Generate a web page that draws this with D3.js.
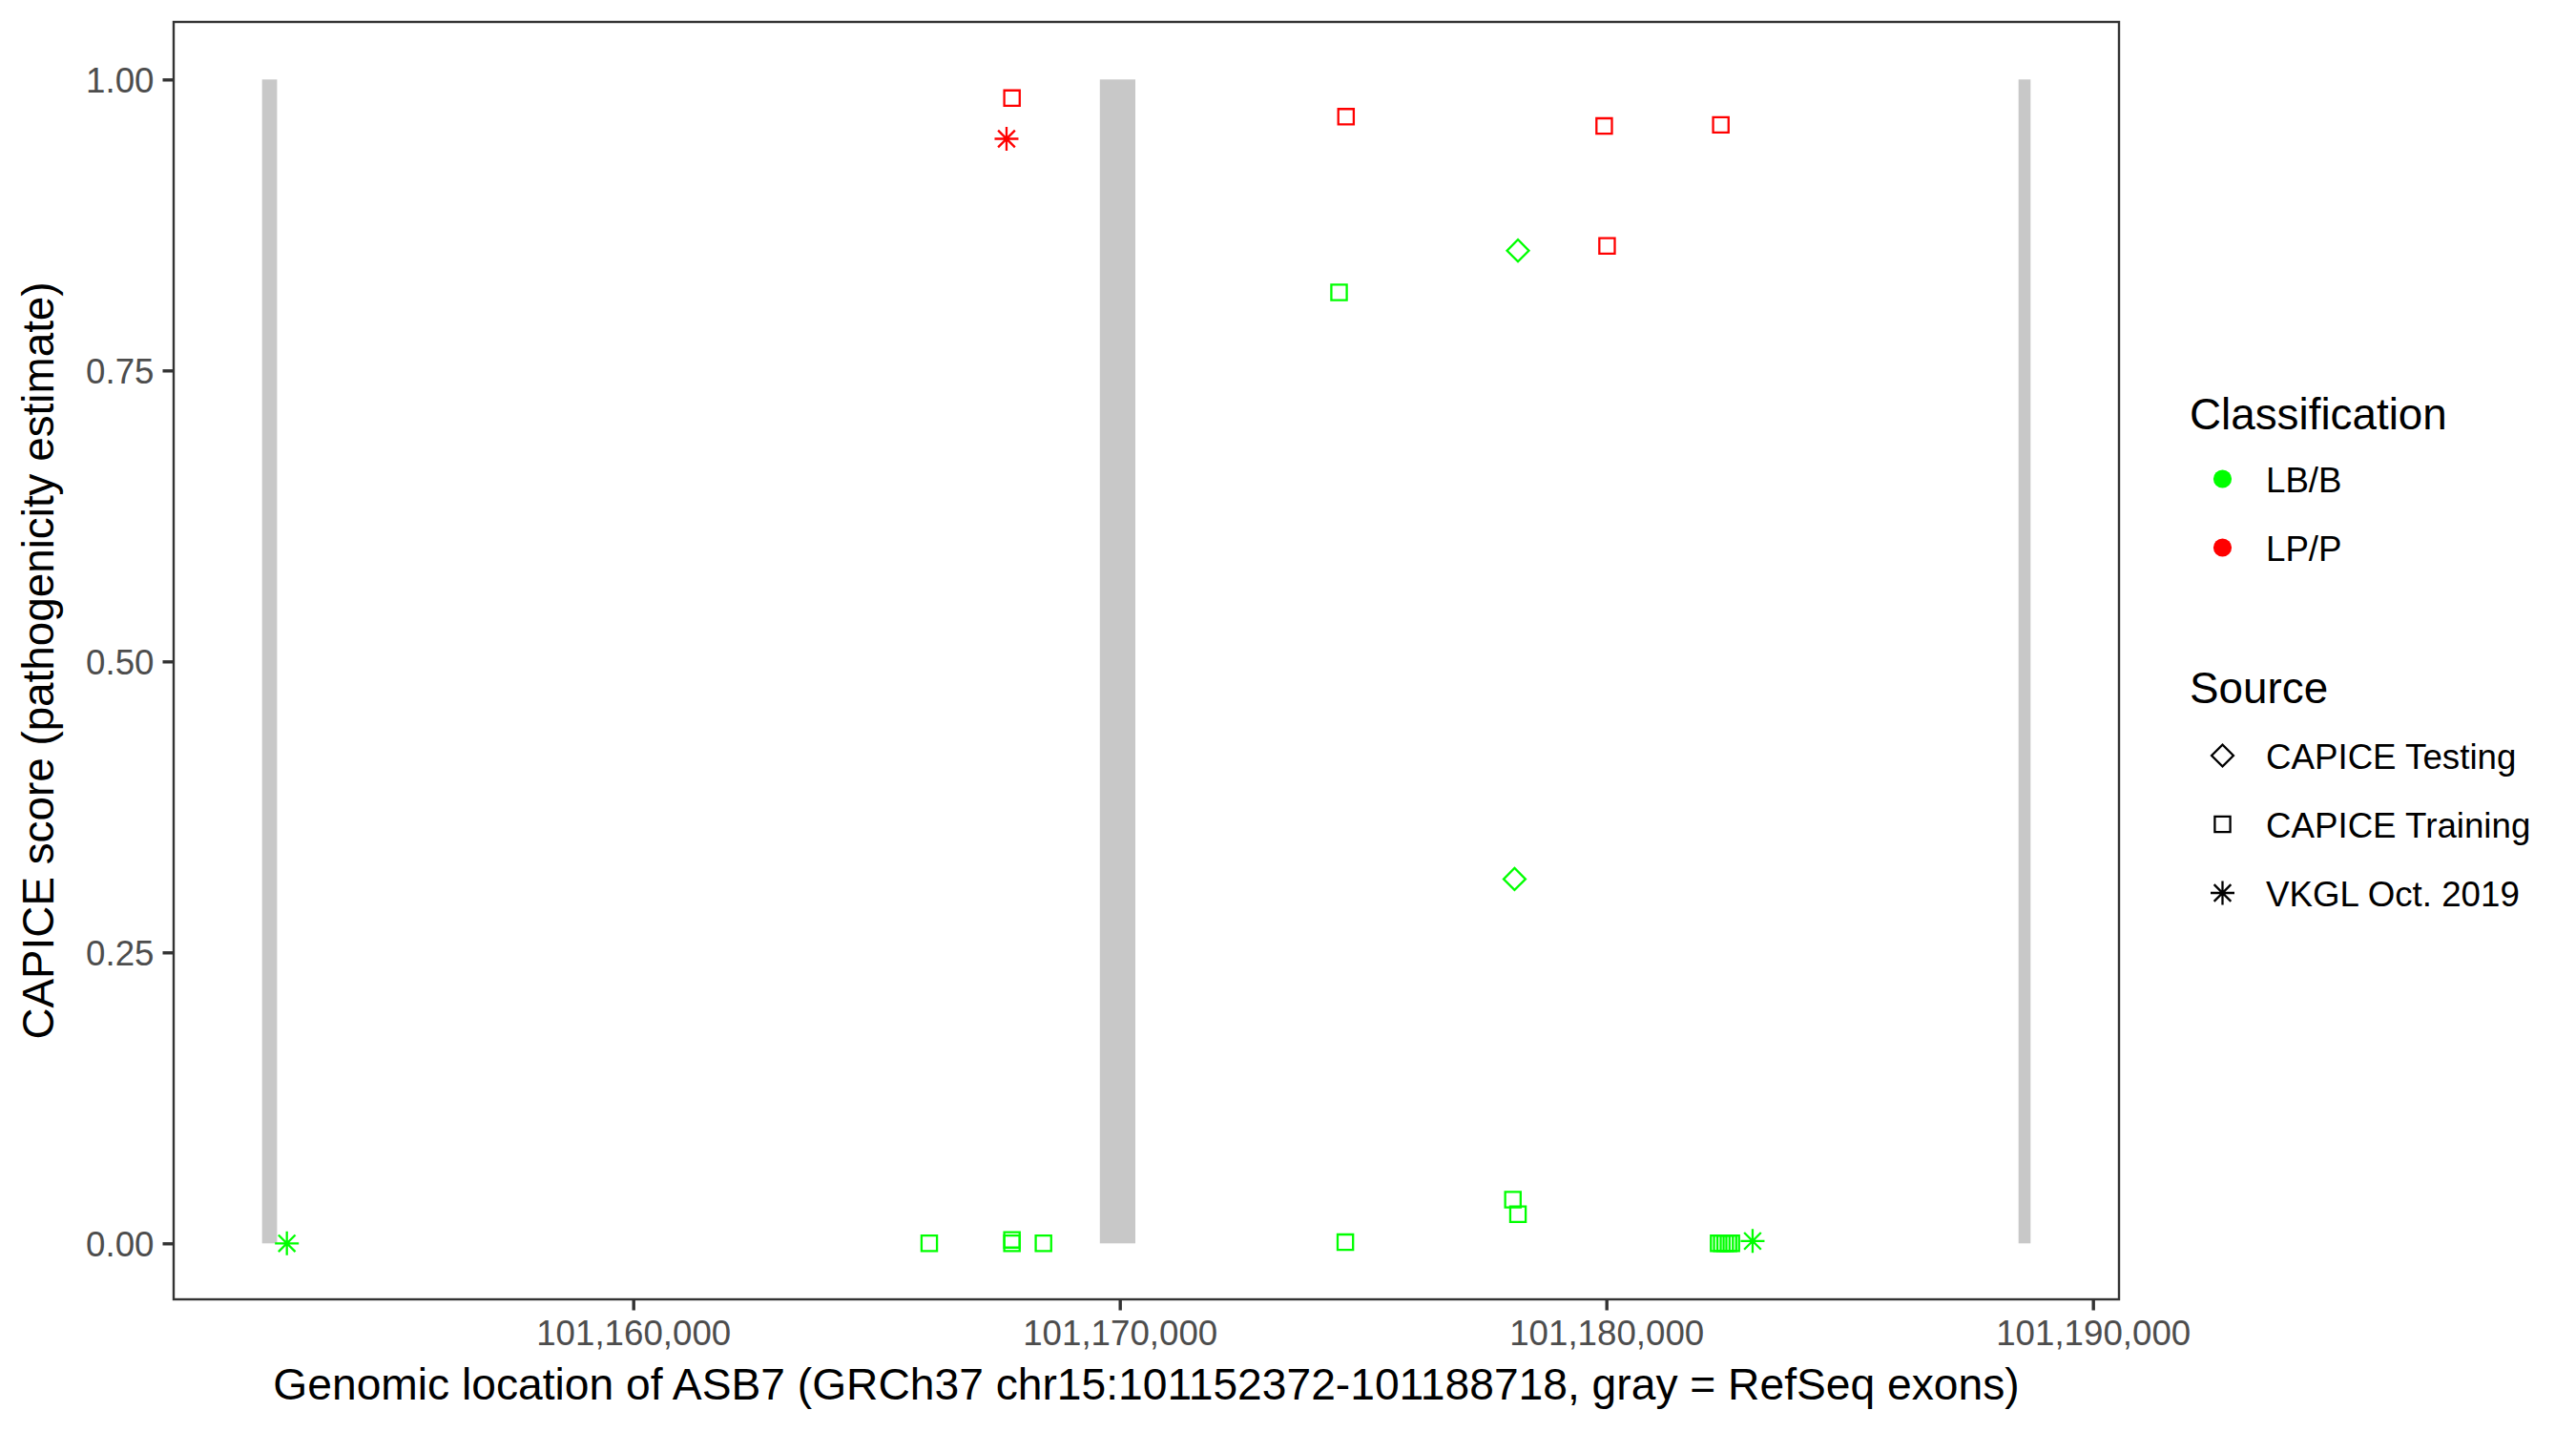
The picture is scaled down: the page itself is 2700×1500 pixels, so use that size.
<!DOCTYPE html>
<html><head><meta charset="utf-8">
<script src="https://cdn.jsdelivr.net/npm/d3@7"></script>
<style>
body{margin:0;background:#fff}
svg{display:block}
text{font-family:"Liberation Sans",Arial,Helvetica,sans-serif}
</style>
</head><body>
<svg id="c" width="2700" height="1500"></svg>
<script>
// ---- data ----
const geneStart = 101152372, geneEnd = 101188718;
const exonStarts = [101152372, 101169590, 101188470];
const exonEnds   = [101152680, 101170320, 101188718];
const xTicks = [101160000, 101170000, 101180000, 101190000];
const yTicks = [0, 0.25, 0.5, 0.75, 1];
const classes = ["LB/B", "LP/P"];
const classColors = ["#00FF00", "#FF0000"];
const sources = ["CAPICE Testing", "CAPICE Training", "VKGL Oct. 2019"];

const varPos = [101152882, 101166084, 101167784, 101167784, 101168431, 101167784, 101167672,
  101174649, 101174506, 101174635, 101178183, 101178113, 101178079, 101178183,
  101179955, 101180014, 101182352, 101182307, 101182372, 101182441, 101182509, 101182568, 101183005];
const varScore = [0, 0, 0.003, 0, 0, 0.984, 0.949,
  0.968, 0.817, 0.001, 0.853, 0.313, 0.0375, 0.025,
  0.960, 0.857, 0.961, 0, 0, 0, 0, 0, 0.002];
const varClass = ["LB/B","LB/B","LB/B","LB/B","LB/B","LP/P","LP/P",
  "LP/P","LB/B","LB/B","LB/B","LB/B","LB/B","LB/B",
  "LP/P","LP/P","LP/P","LB/B","LB/B","LB/B","LB/B","LB/B","LB/B"];
const varSource = ["VKGL Oct. 2019","CAPICE Training","CAPICE Training","CAPICE Training","CAPICE Training","CAPICE Training","VKGL Oct. 2019",
  "CAPICE Training","CAPICE Training","CAPICE Training","CAPICE Testing","CAPICE Testing","CAPICE Training","CAPICE Training",
  "CAPICE Training","CAPICE Training","CAPICE Training","CAPICE Training","CAPICE Training","CAPICE Training","CAPICE Training","CAPICE Training","VKGL Oct. 2019"];

// ---- layout ----
const svg = d3.select("#c");
const P = {left: 182, right: 2221, top: 23, bottom: 1362};
const span = geneEnd - geneStart;
const x = d3.scaleLinear().domain([geneStart - 0.05*span, geneEnd + 0.05*span]).range([P.left, P.right]);
const y = d3.scaleLinear().domain([0, 1]).range([1303.3, 83.3]);
const color = d3.scaleOrdinal().domain(classes).range(classColors);

// symbols
const sq = d3.symbol().type(d3.symbolSquare).size(262)();
function asterisk(r){
  let d = "";
  for (let i = 0; i < 4; i++) {
    const a = i * Math.PI / 4;
    const dx = r*Math.cos(a), dy = r*Math.sin(a);
    d += `M${-dx},${-dy}L${dx},${dy}`;
  }
  return d;
}
const shapePath = {
  "CAPICE Testing": {d: sq, rot: 45},
  "CAPICE Training": {d: sq, rot: 0},
  "VKGL Oct. 2019": {d: asterisk(12.5), rot: 0}
};

// exons
svg.append("g").selectAll("rect").data(exonStarts).join("rect")
  .attr("x", (d,i) => x(d))
  .attr("width", (d,i) => Math.max(1, x(exonEnds[i]) - x(d)))
  .attr("y", y(1)).attr("height", y(0) - y(1))
  .attr("fill", "#C8C8C8");

// points
const pts = varPos.map((p,i) => ({p, s: varScore[i], c: varClass[i], src: varSource[i]}));
svg.append("g").selectAll("path").data(pts).join("path")
  .attr("transform", d => `translate(${x(d.p)},${y(d.s)}) rotate(${shapePath[d.src].rot})`)
  .attr("d", d => shapePath[d.src].d)
  .attr("fill", "none")
  .attr("stroke", d => color(d.c))
  .attr("stroke-width", 2.3);

// panel border
svg.append("rect").attr("x", P.left).attr("y", P.top)
  .attr("width", P.right - P.left).attr("height", P.bottom - P.top)
  .attr("fill", "none").attr("stroke", "#333333").attr("stroke-width", 2.4);

// axes
const fmt = d3.format(",");
const xAxis = svg.append("g").attr("transform", `translate(0,${P.bottom})`)
  .call(d3.axisBottom(x).tickValues(xTicks).tickFormat(fmt).tickSize(11.5).tickPadding(10));
const yAxis = svg.append("g").attr("transform", `translate(${P.left},0)`)
  .call(d3.axisLeft(y).tickValues(yTicks).tickFormat(d3.format(".2f")).tickSize(11.5).tickPadding(9));
[xAxis, yAxis].forEach(g => {
  g.select(".domain").remove();
  g.selectAll(".tick line").attr("stroke", "#333333").attr("stroke-width", 3.4);
  g.selectAll(".tick text").attr("fill", "#4D4D4D").style("font-size", "36.7px")
    .style("font-family", '"Liberation Sans",Arial,sans-serif');
});
xAxis.selectAll(".tick text").attr("dy", "0.71em");
yAxis.selectAll(".tick text").attr("dy", "0.35em");

// axis titles
svg.append("text").attr("x", (P.left + P.right)/2).attr("y", 1467)
  .attr("text-anchor", "middle").style("font-size", "46.2px").attr("fill", "#000")
  .text("Genomic location of ASB7 (GRCh37 chr15:101152372-101188718, gray = RefSeq exons)");
svg.append("text").attr("transform", `translate(56,${(P.top + P.bottom)/2}) rotate(-90)`)
  .attr("text-anchor", "middle").style("font-size", "45.8px").attr("fill", "#000")
  .text("CAPICE score (pathogenicity estimate)");

// legend
const lx = 2295, keyX = 2329.5, labX = 2375;
const leg = svg.append("g");
leg.append("text").attr("x", lx).attr("y", 450).style("font-size", "45.8px").text("Classification");
classes.forEach((c,i) => {
  const cy = 502 + i*72;
  leg.append("circle").attr("cx", keyX).attr("cy", cy).attr("r", 9.6).attr("fill", color(c));
  leg.append("text").attr("x", labX).attr("y", cy + 13.5).style("font-size", "36.7px").text(c);
});
leg.append("text").attr("x", lx).attr("y", 737).style("font-size", "45.8px").text("Source");
sources.forEach((s,i) => {
  const cy = 792 + i*72;
  leg.append("path").attr("transform", `translate(${keyX},${cy}) rotate(${shapePath[s].rot})`)
    .attr("d", shapePath[s].d).attr("fill", "none").attr("stroke", "#000").attr("stroke-width", 2.3);
  leg.append("text").attr("x", labX).attr("y", cy + 13.5).style("font-size", "36.7px").text(s);
});
</script>
</body></html>
